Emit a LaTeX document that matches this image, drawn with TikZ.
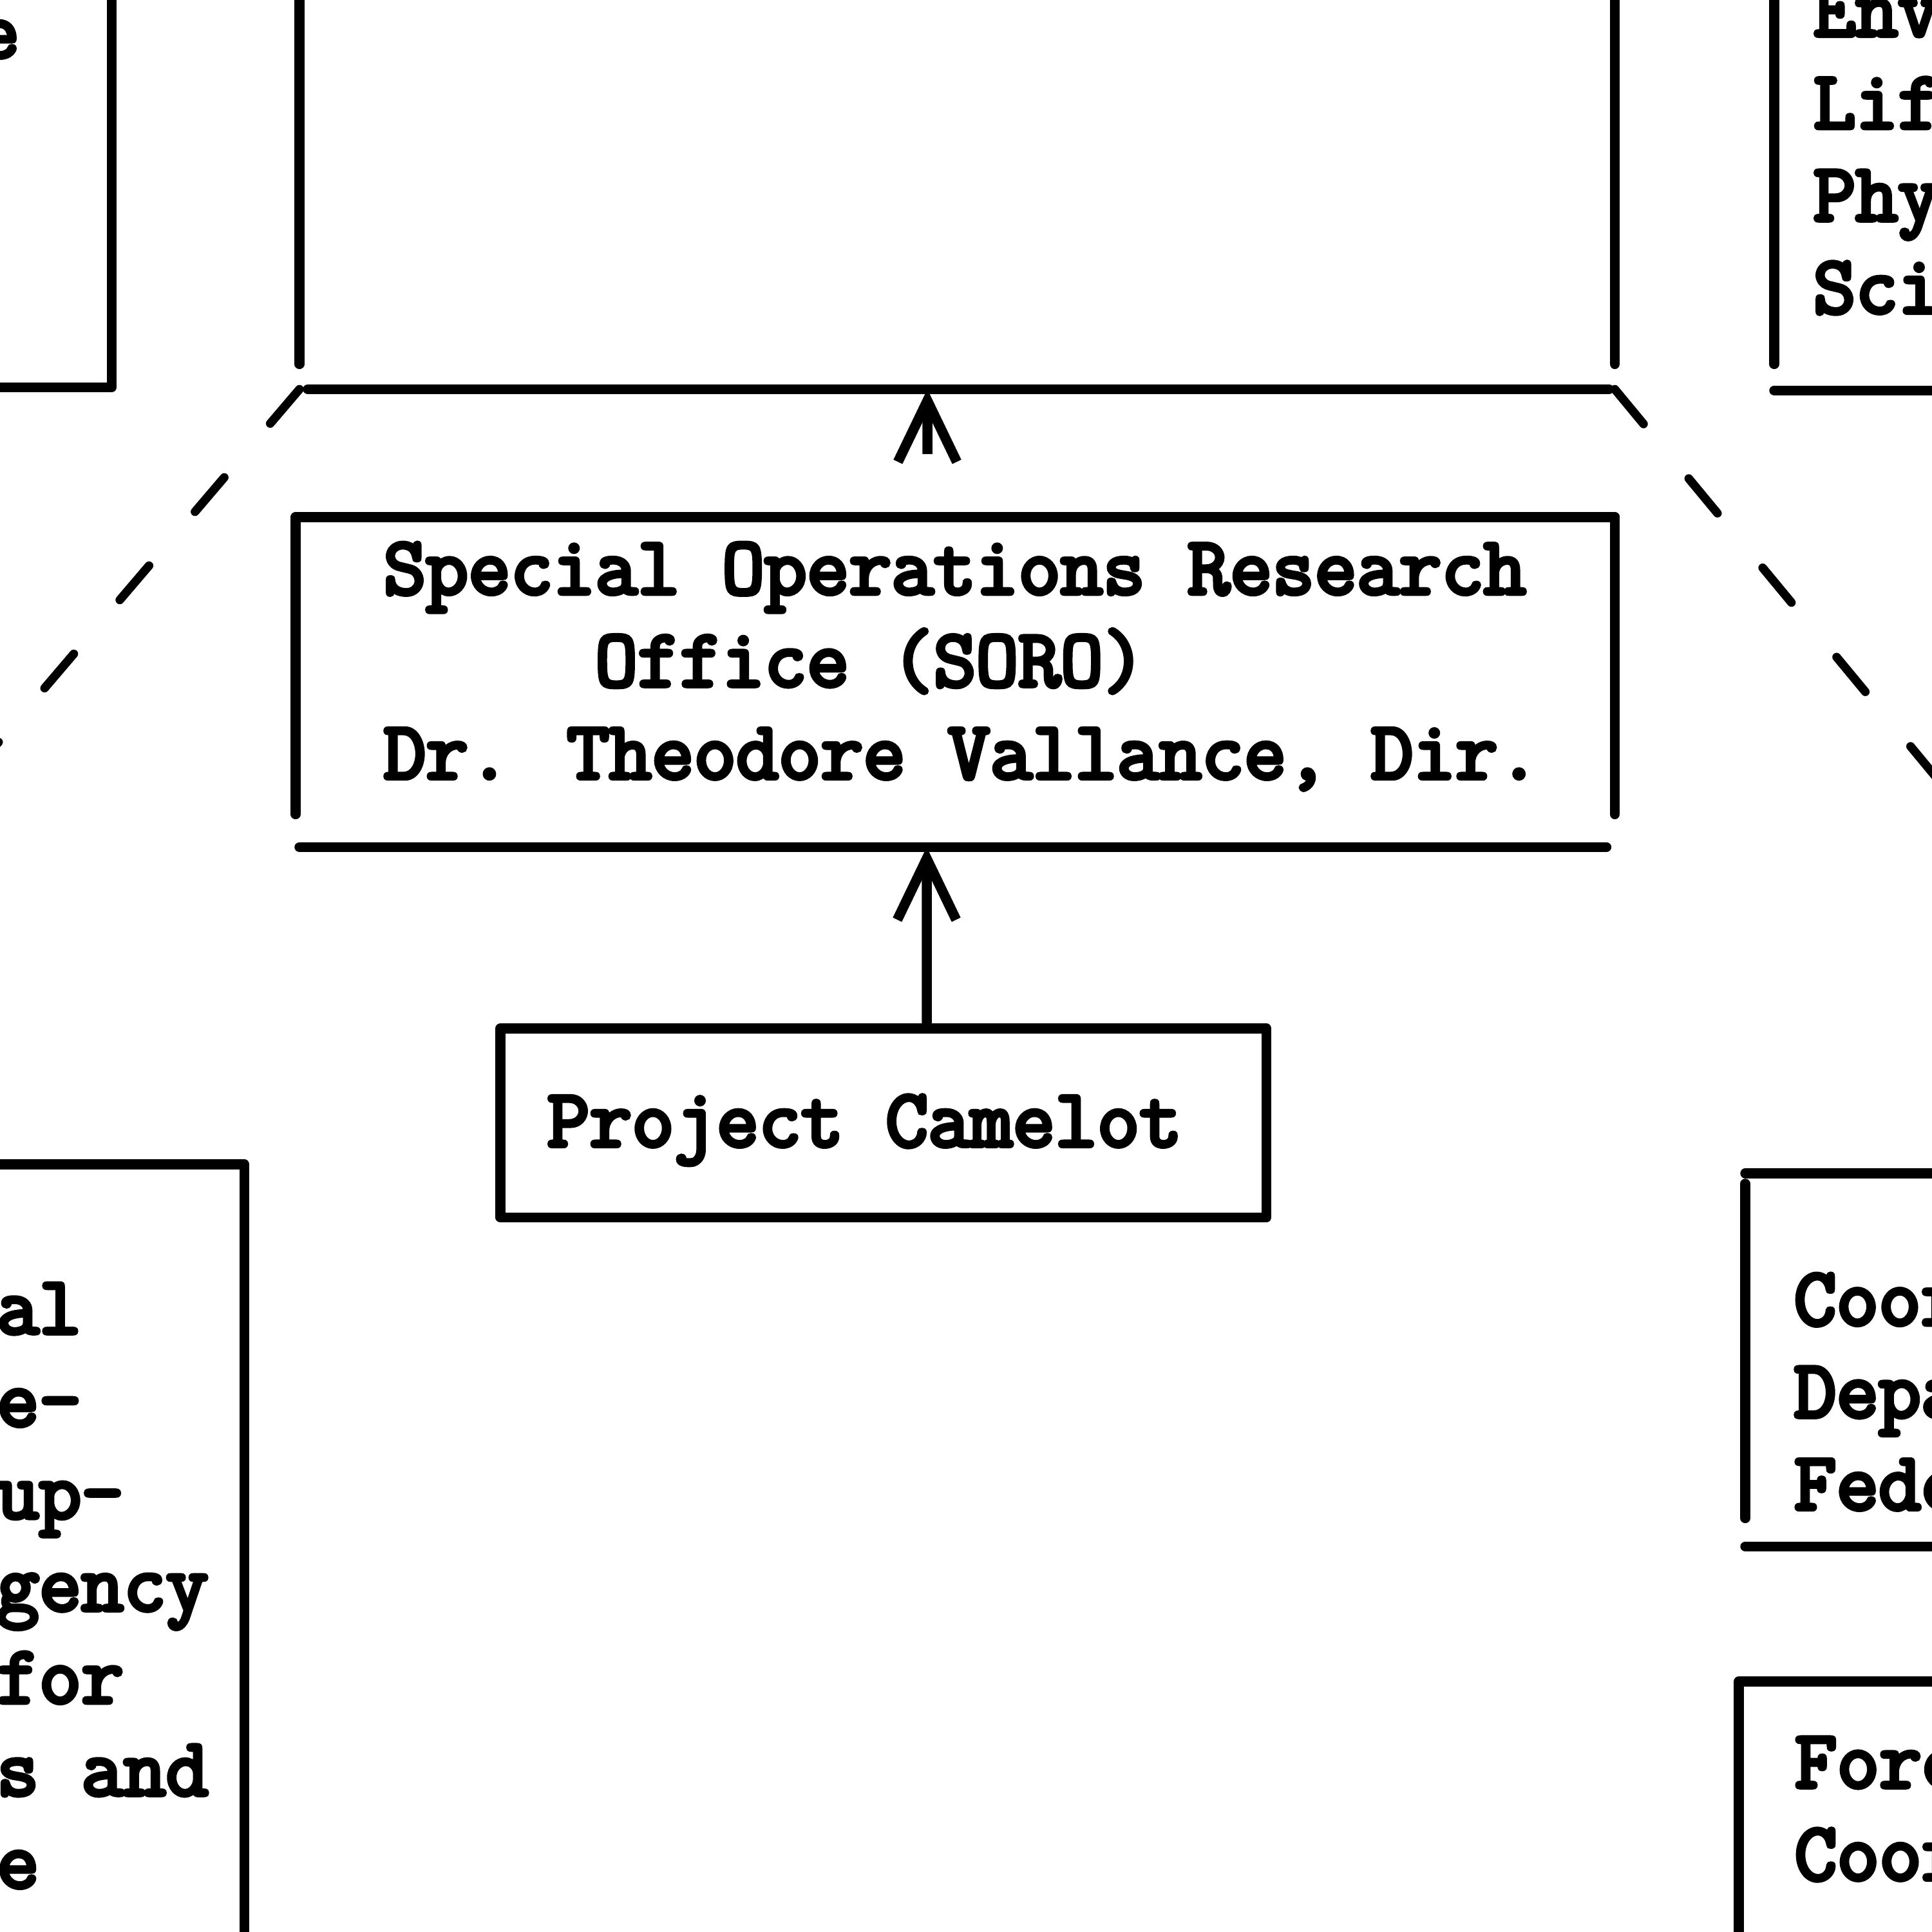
\documentclass[tikz,border=0pt]{standalone}
\usepackage{fontspec}
\newfontfamily\typer{Latin Modern Mono}[FakeBold=5]
\usetikzlibrary{arrows.meta}
\usetikzlibrary{positioning}

\begin{document}
\begin{tikzpicture}[x=1cm, y=-1cm,
    rule/.style={line width=4.4pt, line cap=round, line join=round},
    linkdash/.style={line width=3.8pt, line cap=round, dash pattern=on 0.7cm off 1.1cm},
    frame/.style={rectangle, draw=none, inner sep=0pt, anchor=north west},
    typed/.style={font=\typer\fontsize{36.3}{40.8}\selectfont, inner sep=0pt, anchor=base west, align=left},
    up arrow/.style={-{Straight Barb[length=27pt, width=26pt]}, line width=4.4pt},
  ]

  \useasboundingbox (0,0) rectangle (30,30);
  \clip (0,0) rectangle (30,30);

  % boxes
  \node[frame, minimum width=6.72cm, minimum height=8cm] (staff) at (-5,-2) {};
  \node[frame, minimum width=20.41cm, minimum height=8.03cm] (chief) at (4.65,-2) {};
  \node[frame, minimum width=5cm, minimum height=8.05cm] (envbox) at (27.55,-2) {};
  \node[frame, minimum width=20.47cm, minimum height=5.11cm] (soro) at (4.59,8.03) {};
  \node[frame, minimum width=11.88cm, minimum height=2.92cm] (camelot) at (7.77,15.97) {};
  \node[frame, minimum width=8.78cm, minimum height=14cm] (army) at (-5,18.08) {};
  \node[frame, minimum width=5cm, minimum height=5.78cm] (coord) at (27.10,18.22) {};
  \node[frame, minimum width=5cm, minimum height=6cm] (foreign) at (27.00,26.11) {};

  \draw[rule] (staff.north east) -- (staff.south east) -- (staff.south west);
  \draw[rule] (chief.north west) -- ([shift={(0,-0.39)}]chief.south west);
  \draw[rule] (chief.north east) -- ([shift={(0,-0.39)}]chief.south east);
  \draw[rule] ([xshift=0.13cm]chief.south west) -- ([xshift=-0.09cm]chief.south east);
  \draw[rule] (envbox.north west) -- ([shift={(0,-0.41)}]envbox.south west);
  \draw[rule] (envbox.south west) -- (envbox.south east);
  \draw[rule] (soro.north west) -- (soro.north east);
  \draw[rule] (soro.north west) -- ([shift={(0,-0.51)}]soro.south west);
  \draw[rule] (soro.north east) -- ([shift={(0,-0.51)}]soro.south east);
  \draw[rule] ([xshift=0.06cm]soro.south west) -- ([xshift=-0.13cm]soro.south east);
  \draw[rule] (camelot.north west) rectangle (camelot.south east);
  \draw[rule] (army.north west) -- (army.north east) -- (army.south east);
  \draw[rule] (coord.north west) -- (coord.north east);
  \draw[rule] ([shift={(0,0.16)}]coord.north west) -- ([shift={(0,-0.44)}]coord.south west);
  \draw[rule] (coord.south west) -- (coord.south east);
  \draw[rule] (foreign.north east) -- (foreign.north west) -- (foreign.south west);

  % texts (base = last line)
  \node[typed, anchor=base east] (stafftext) at (0.31,0.89) {Service};
  \node[typed] (envtext) at (28.15,4.86) {Environmental\\Life\\Physical\\Sciences};
  \node[typed] (sorotext) at (5.95,12.09)
    {Special Operations Research\\\hphantom{XXXXX}Office (SORO)\\Dr. Theodore Vallance, Dir.};
  \node[typed] (camelottext) at (8.49,17.80) {Project Camelot};
  \node[typed] (armytext) at (-4.0,29.31)
    {Regional\\Warfare-\\with Sup-\\Contingency\\Plans for\\Studies and\\Defense};
  \node[typed] (coordtext) at (27.85,23.44) {Coordination\\Department\\Federal};
  \node[typed] (foreigntext) at (27.86,29.19) {Foreign\\Coordination};

  % connectors
  \coordinate (stub) at (14.40,7.05);
  \coordinate (offleft) at (-1.0,12.67);
  \coordinate (offright) at (31.0,13.2);
  \draw[up arrow] (stub) -- ([xshift=9.75cm]chief.south west);
  \draw[up arrow] ([xshift=6.62cm]camelot.north west) -- ([xshift=9.80cm]soro.south west);
  \draw[linkdash] (chief.south west) -- (offleft);
  \draw[linkdash] (chief.south east) -- (offright);

\end{tikzpicture}
\end{document}
